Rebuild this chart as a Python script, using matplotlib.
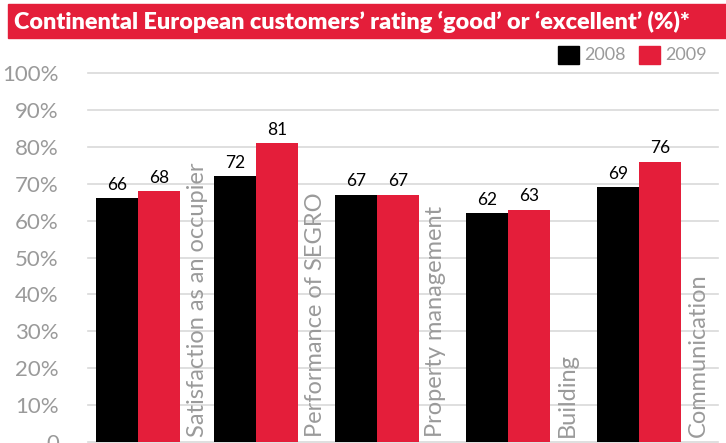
import matplotlib
matplotlib.use("Agg")
import matplotlib.pyplot as plt
from matplotlib.patches import Rectangle

categories = ["Satisfaction as an occupier", "Performance of SEGRO",
              "Property management", "Building", "Communication"]
values_2008 = [66, 72, 67, 62, 69]
values_2009 = [68, 81, 67, 63, 76]
series_names = ["2008", "2009"]
yticks = [0, 10, 20, 30, 40, 50, 60, 70, 80, 90, 100]
ytick_labels = ["0", "10%", "20%", "30%", "40%", "50%", "60%", "70%", "80%", "90%", "100%"]
title = "Continental European customers\u2019 rating \u2018good\u2019 or \u2018excellent\u2019 (%)*"

RED = "#E41E3A"
GRAY = "#9a9a9a"
FONT = "Lato"

# layout: group centers (boundary between the two bars), in axis units (pixels from left grid start)
group_pos = [50, 168, 289, 420, 551]
bar_w = 42
label_off = 59

W, H = 726, 443
fig = plt.figure(figsize=(W / 100, H / 100), dpi=100)
ax = fig.add_axes([88 / W, 1 / H, 630 / W, 369 / H])
ax.set_xlim(0, 630)
ax.set_ylim(0, 100)
for s in ax.spines.values():
    s.set_visible(False)
ax.set_xticks([])
ax.set_yticks(yticks)
ax.set_yticklabels(ytick_labels, fontsize=16, color=GRAY, family=FONT)
ax.tick_params(axis="y", length=0, pad=21)
for lab in ax.get_yticklabels():
    lab.set_clip_on(False)

for t in yticks:
    ax.axhline(t, color="#d9d9d9", lw=1.2, zorder=0, clip_on=False)

x08 = [p - bar_w / 2 for p in group_pos]
x09 = [p + bar_w / 2 for p in group_pos]
b1 = ax.bar(x08, values_2008, width=bar_w, color="black", zorder=2)
b2 = ax.bar(x09, values_2009, width=bar_w, color=RED, zorder=2)
for bars, vals in ((b1, values_2008), (b2, values_2009)):
    for r, v in zip(bars, vals):
        ax.annotate(str(v), (r.get_x() + r.get_width() / 2, v), xytext=(0, 4),
                    textcoords="offset points", ha="center", va="bottom",
                    fontsize=12.5, color="black", family=FONT, zorder=3)

for p, c in zip(group_pos, categories):
    ax.text(p + label_off, 1.4, c, rotation=90, ha="center", va="bottom",
            fontsize=17, color=GRAY, family=FONT, zorder=3)

# title bar
fig.patches.append(Rectangle((8 / W, 1 - 38 / H), 1 - 8 / W, 34 / H,
                             transform=fig.transFigure, color=RED, zorder=0))
fig.text(14 / W, 1 - 21.5 / H, title, color="white", fontsize=16.8,
         fontweight="heavy", family=FONT, ha="left", va="center")

# legend
for i, (name, col) in enumerate(zip(series_names, ["black", RED])):
    x0 = [558, 639][i]
    fig.patches.append(Rectangle((x0 / W, 1 - 64 / H), 21 / W, 18 / H,
                                 transform=fig.transFigure, color=col))
    fig.text((x0 + 26) / W, 1 - 55 / H, name, color=GRAY, fontsize=13,
             family=FONT, ha="left", va="center")

fig.savefig("out.png", dpi=100)
